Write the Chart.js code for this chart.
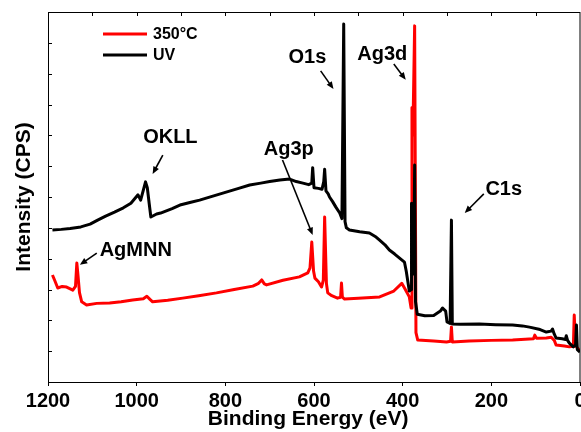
<!DOCTYPE html>
<html lang="en">
<head>
    <meta charset="UTF-8">
    <title>XPS survey</title>
    <script src="https://cdn.jsdelivr.net/npm/chart.js"></script>
    <style>
        body {
            margin: 0;
            background-color: #fff;
        }
        .chart-box {
            width: 581px;
            height: 432px;
        }
    </style>
</head>
<body>
    <div class="chart-box">
        <canvas id="xpsChart"></canvas>
    </div>

    <script>
        // Binding energy (eV) and intensity (arbitrary units)
        const seriesLabels = ['350°C', 'UV'];

        const xRed = [1190, 1185, 1178, 1168, 1158, 1144, 1138, 1135, 1132, 1129, 1124, 1113, 1090, 1061, 1035,
            1009, 985, 977, 970, 964, 930, 896, 860, 820, 780, 738, 725, 718, 712, 707, 670, 633, 614, 609,
            605, 601, 598, 590, 583, 579, 576, 572, 569, 560, 547, 540, 538, 536, 531, 500, 452, 420, 402,
            394, 385, 381, 379, 377, 373, 370, 366, 330, 301, 292, 290, 288, 250, 200, 152, 105, 102,
            98, 76, 65, 58, 54, 35, 24, 15, 13, 10, 8, 0];
        const yRed = [3.47, 3.3, 3.05, 3.1, 3.08, 2.98, 3.1, 3.86, 3.4, 2.9, 2.6, 2.5, 2.55, 2.56, 2.6,
            2.66, 2.7, 2.78, 2.68, 2.6, 2.65, 2.72, 2.8, 2.89, 3.0, 3.11, 3.2, 3.31, 3.18, 3.15, 3.3, 3.41, 3.54, 3.7,
            4.54, 3.6, 3.37, 3.25, 3.08, 3.3, 5.35, 3.2, 2.89, 2.8, 2.72, 2.75, 3.21, 2.75, 2.69, 2.72, 2.76, 2.95, 3.2,
            3.0, 2.76, 2.4, 8.9, 8.0, 11.55, 1.6, 1.36, 1.33, 1.3, 1.32, 1.78, 1.3, 1.33, 1.35, 1.36, 1.4, 1.52,
            1.42, 1.43, 1.45, 1.35, 1.2, 1.17, 1.14, 1.16, 2.17, 1.2, 1.14, 1.0];

        const xUV = [1190, 1170, 1150, 1126, 1105, 1088, 1070, 1050, 1030, 1013, 997, 991,
            980, 976, 971, 968, 955, 946, 920, 900, 880, 858, 830, 800, 770, 745, 720, 700, 677, 655, 640, 625,
            612, 605, 603, 600, 590, 582, 578, 576, 573, 568, 565, 558, 551, 542, 537, 533, 530, 527, 520, 497,
            475, 460, 452, 440, 430, 418, 407, 396, 392, 385, 381, 380, 378, 375, 373, 371, 367, 350, 330, 315,
            310, 303, 300, 293, 290, 288, 270, 227, 190, 152, 130, 114, 90, 76, 65, 62, 58, 54, 40, 33, 31, 28,
            24, 15, 10, 8, 6, 0];
        const yUV = [4.93, 4.95, 4.98, 5.03, 5.12, 5.25, 5.38, 5.51, 5.65, 5.8, 6.07, 5.9,
            6.49, 6.3, 5.7, 5.35, 5.45, 5.48, 5.62, 5.75, 5.82, 5.9, 6.02, 6.15, 6.28, 6.39, 6.45, 6.5, 6.55, 6.58, 6.5, 6.45,
            6.4, 6.45, 6.95, 6.3, 6.28, 6.25, 6.5, 6.9, 6.2, 6.1, 6.0, 5.85, 5.68, 5.48, 5.3, 11.61, 5.2, 5.0, 4.93, 4.87,
            4.83, 4.7, 4.6, 4.45, 4.28, 4.15, 4.02, 3.89, 3.6, 2.95, 3.0, 5.8, 4.5, 3.5, 7.04, 2.6, 2.2, 2.15, 2.16, 2.3,
            2.4, 2.3, 1.95, 1.9, 5.25, 1.88, 1.87, 1.88, 1.86, 1.85, 1.82, 1.78, 1.7, 1.62, 1.65, 1.72, 1.55, 1.43, 1.4, 1.38, 1.5, 1.35,
            1.26, 1.14, 1.2, 1.85, 1.05, 0.97];

        const xTickLabels = [1200, 1000, 800, 600, 400, 200, 0];

        // peak labels: text, text anchor, arrow start -> arrow end (data units)
        const peakNotes = [
            { text: 'OKLL', at: [924, 7.75], from: [941, 7.36], to: [964, 6.75] },
            { text: 'O1s', at: [615, 10.35], from: [585, 10.09], to: [556, 9.5] },
            { text: 'Ag3d', at: [446, 10.44], from: [420, 10.31], to: [393, 9.8] },
            { text: 'Ag3p', at: [657, 7.36], from: [671, 7.2], to: [603, 4.77] },
            { text: 'C1s', at: [172, 6.07], from: [217, 6.1], to: [260, 5.48] },
            { text: 'AgMNN', at: [1002, 4.09], from: [1090, 4.18], to: [1128, 3.8] }
        ];

        const toPoints = (xs, ys) => xs.map((x, i) => ({ x: x, y: ys[i] }));

        function drawArrow(ctx, x1, y1, x2, y2) {
            const ang = Math.atan2(y2 - y1, x2 - x1);
            const head = 8;
            ctx.beginPath();
            ctx.moveTo(x1, y1);
            ctx.lineTo(x2 - Math.cos(ang) * head * 0.8, y2 - Math.sin(ang) * head * 0.8);
            ctx.stroke();
            ctx.beginPath();
            ctx.moveTo(x2, y2);
            ctx.lineTo(x2 - head * Math.cos(ang - 0.4), y2 - head * Math.sin(ang - 0.4));
            ctx.lineTo(x2 - head * Math.cos(ang + 0.4), y2 - head * Math.sin(ang + 0.4));
            ctx.closePath();
            ctx.fill();
        }

        const framePlugin = {
            id: 'frame',
            afterDatasetsDraw(chart) {
                const { ctx, chartArea: a, scales } = chart;
                const xs = scales.x, ys = scales.y;
                ctx.save();
                ctx.strokeStyle = '#000';
                ctx.fillStyle = '#000';
                ctx.lineWidth = 1;
                ctx.strokeRect(a.left + 0.5, a.top + 0.5, a.right - a.left - 0.5, a.bottom - a.top);

                // inward ticks on left and top
                ctx.beginPath();
                for (let v = 1; v < 12; v++) {
                    const py = Math.round(ys.getPixelForValue(v)) + 0.5;
                    ctx.moveTo(a.left, py);
                    ctx.lineTo(a.left + 4, py);
                }
                for (let e = 100; e < 1200; e += 100) {
                    const px = Math.round(xs.getPixelForValue(e)) + 0.5;
                    ctx.moveTo(px, a.top);
                    ctx.lineTo(px, a.top + 4);
                }
                ctx.stroke();

                // legend
                ctx.font = 'bold 16px "Liberation Sans", Arial, sans-serif';
                ctx.textBaseline = 'middle';
                ctx.lineWidth = 3;
                chart.data.datasets.forEach((ds, i) => {
                    const ly = a.top + 22 + i * 21;
                    ctx.strokeStyle = ds.borderColor;
                    ctx.beginPath();
                    ctx.moveTo(a.left + 55, ly);
                    ctx.lineTo(a.left + 99, ly);
                    ctx.stroke();
                    ctx.fillStyle = '#000';
                    ctx.fillText(ds.label, a.left + 105, ly + 1);
                });

                // peak labels with arrows
                ctx.font = 'bold 20px "Liberation Sans", Arial, sans-serif';
                ctx.textAlign = 'center';
                ctx.textBaseline = 'alphabetic';
                ctx.strokeStyle = '#000';
                ctx.fillStyle = '#000';
                ctx.lineWidth = 1.6;
                peakNotes.forEach(n => {
                    ctx.fillText(n.text, xs.getPixelForValue(n.at[0]), ys.getPixelForValue(n.at[1]));
                    drawArrow(ctx,
                        xs.getPixelForValue(n.from[0]), ys.getPixelForValue(n.from[1]),
                        xs.getPixelForValue(n.to[0]), ys.getPixelForValue(n.to[1]));
                });
                ctx.restore();
            }
        };

        const axisFont = { family: '"Liberation Sans", Arial, sans-serif', weight: 'bold', size: 20 };
        const titleFont = { family: '"Liberation Sans", Arial, sans-serif', weight: 'bold', size: 21 };

        new Chart(document.getElementById('xpsChart'), {
            type: 'line',
            data: {
                datasets: [
                    {
                        label: seriesLabels[0],
                        data: toPoints(xRed, yRed),
                        borderColor: '#ff0000',
                        borderWidth: 3,
                        order: 2
                    },
                    {
                        label: seriesLabels[1],
                        data: toPoints(xUV, yUV),
                        borderColor: '#000000',
                        borderWidth: 3,
                        order: 1
                    }
                ]
            },
            options: {
                responsive: true,
                maintainAspectRatio: false,
                animation: false,
                elements: {
                    point: { radius: 0 },
                    line: { tension: 0, borderJoinStyle: 'round' }
                },
                layout: { padding: { top: 12, right: 1, left: 0, bottom: 0 } },
                plugins: {
                    legend: { display: false },
                    tooltip: { enabled: false }
                },
                scales: {
                    x: {
                        type: 'linear',
                        reverse: true,
                        min: 0,
                        max: 1200,
                        grid: { drawOnChartArea: false, drawTicks: true, tickLength: 4, color: '#000' },
                        border: { display: true, color: '#000', width: 1 },
                        ticks: {
                            stepSize: 100,
                            autoSkip: false,
                            maxRotation: 0,
                            color: '#000',
                            font: axisFont,
                            padding: 3,
                            callback: v => xTickLabels.includes(v) ? String(v) : null
                        },
                        title: {
                            display: true,
                            // trailing spaces nudge the centred title a little to the left, as in the original
                            text: 'Binding Energy (eV)  ',
                            color: '#000',
                            font: titleFont,
                            padding: { top: 0, bottom: 0 }
                        },
                        afterFit: s => {
                            s.height = 50;
                            s.paddingLeft = 0;
                            s.paddingRight = 0;
                        }
                    },
                    y: {
                        min: 0,
                        max: 12,
                        grid: { display: false },
                        border: { display: true, color: '#000', width: 1 },
                        ticks: { display: false, stepSize: 1 },
                        title: {
                            display: true,
                            text: 'Intensity (CPS)',
                            color: '#000',
                            font: titleFont,
                            padding: { top: 12, bottom: 0 }
                        },
                        afterFit: s => {
                            s.width = 48;
                        }
                    }
                }
            },
            plugins: [framePlugin]
        });
    </script>
</body>
</html>
